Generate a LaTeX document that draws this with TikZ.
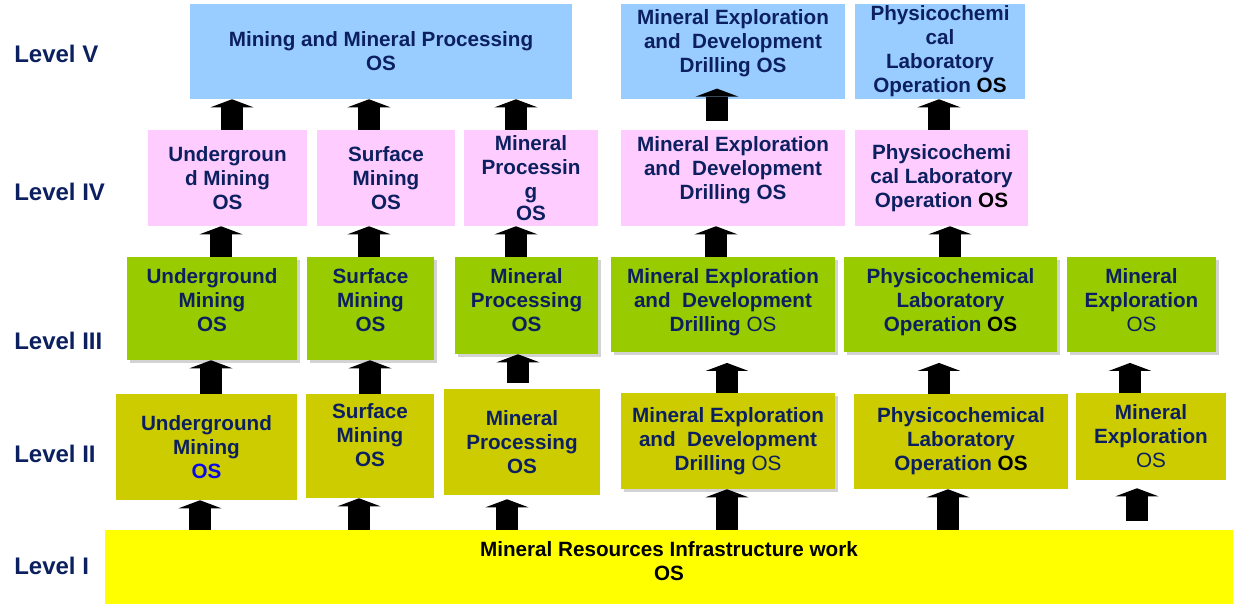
\documentclass[tikz,border=0pt]{standalone}
\usepackage{fontspec}
\setmainfont{Liberation Sans}
\usepackage{xcolor}
\usetikzlibrary{arrows.meta,shadows}
\definecolor{navy}{RGB}{12,32,96}
\definecolor{osblue}{RGB}{10,10,230}
\definecolor{skyblue}{RGB}{153,204,255}
\definecolor{pinkbox}{RGB}{255,204,255}
\definecolor{greenbox}{RGB}{153,204,0}
\definecolor{olivebox}{RGB}{204,204,0}
\definecolor{yellowbox}{RGB}{255,255,0}

\begin{document}
\begin{tikzpicture}[x=0.75pt, y=-0.75pt,
    box/.style={align=center, inner sep=0pt, text=navy,
      font=\fontsize{15.5}{18}\selectfont\bfseries},
    wh/.style 2 args={minimum width=#1*0.75pt, minimum height=#2*0.75pt},
    lift/.style={text depth=#1},
    shade/.style={drop shadow={shadow xshift=2pt, shadow yshift=-2.5pt, opacity=0.35}},
    lvl/.style={anchor=west, inner sep=0pt, text=navy,
      font=\fontsize{18}{20}\selectfont\bfseries},
    up/.style={line width=16.5pt, -{Triangle[width=32pt,length=6pt,line width=0pt]}}]
    \useasboundingbox (0,0) rectangle (1233,604);

    % levels
    \node[lvl] (l5) at (14,54) {Level V};
    \node[lvl] (l4) at (14,192) {Level IV};
    \node[lvl] (l3) at (14,341) {Level III};
    \node[lvl] (l2) at (14,454) {Level II};
    \node[lvl] (l1) at (14,566) {Level I};

    % level V
    \node[box, fill=skyblue, wh={382}{95}] (A) at (381,51.5) {Mining and Mineral Processing\\OS};
    \node[box, fill=skyblue, wh={224}{95}, lift=15pt] (B) at (733,51.5) {Mineral Exploration\\and\ \ Development\\Drilling OS};
    \node[box, fill=skyblue, wh={170}{95}] (C) at (940,51.5) {Physicochemi\\cal\\Laboratory\\Operation \textcolor{black}{OS}};

    % level IV
    \node[box, fill=pinkbox, wh={159}{96}] (D1) at (227.5,178) {Undergroun\\d Mining\\OS};
    \node[box, fill=pinkbox, wh={138}{96}] (D2) at (386,178) {Surface\\Mining\\OS};
    \node[box, fill=pinkbox, wh={134}{96}] (D3) at (531,178) {Mineral\\Processin\\g\\[-2pt]OS};
    \node[box, fill=pinkbox, wh={224}{96}, lift=15pt] (D4) at (733,178) {Mineral Exploration\\and\ \ Development\\Drilling OS};
    \node[box, fill=pinkbox, wh={173}{96}] (D5) at (941.5,178) {Physicochemi\\cal Laboratory\\Operation \textcolor{black}{OS}};

    % level III
    \node[box, shade, fill=greenbox, wh={170}{103}, lift=12pt] (E1) at (212,308.5) {Underground\\Mining\\OS};
    \node[box, shade, fill=greenbox, wh={127}{103}, lift=12pt] (E2) at (370.5,308.5) {Surface\\Mining\\OS};
    \node[box, shade, fill=greenbox, wh={143}{97}, lift=8pt] (E3) at (526.5,305.5) {Mineral\\Processing\\OS};
    \node[box, shade, fill=greenbox, wh={224}{95}, lift=7pt] (E4) at (723,304.5) {Mineral Exploration\\and\ \ Development\\Drilling \mdseries OS};
    \node[box, shade, fill=greenbox, wh={213}{95}, lift=7pt] (E5) at (950.5,304.5) {Physicochemical\\Laboratory\\Operation \textcolor{black}{OS}};
    \node[box, shade, fill=greenbox, wh={149}{95}, lift=7pt] (E6) at (1141.5,304.5) {Mineral\\Exploration\\\mdseries OS};

    % level II
    \node[box, fill=olivebox, wh={181}{106}] (F1) at (206.5,447) {Underground\\Mining\\\textcolor{osblue}{OS}};
    \node[box, fill=olivebox, wh={128}{104}, lift=17pt] (F2) at (370,446) {Surface\\Mining\\OS};
    \node[box, fill=olivebox, wh={156}{106}] (F3) at (522,442) {Mineral\\Processing\\OS};
    \node[box, shade, fill=olivebox, wh={214}{96}] (F4) at (728,441) {Mineral Exploration\\and\ \ Development\\Drilling \mdseries OS};
    \node[box, fill=olivebox, wh={214}{95}] (F5) at (961,441.5) {Physicochemical\\Laboratory\\Operation \textcolor{black}{OS}};
    \node[box, fill=olivebox, wh={150}{87}] (F6) at (1151,436.5) {Mineral\\Exploration\\\mdseries OS};

    % level I
    \node[box, fill=yellowbox, text=black, wh={1128}{74}, lift=9pt] (G) at (669,567) {Mineral Resources Infrastructure work\\OS};

    % arrows
    \foreach \x/\b in {200/F1, 359/F2, 727/F4, 948/F5}
      \draw[up] (G.north -| \x,0) -- (\b.south -| \x,0);
    \draw[up, shorten >=3pt] (G.north -| 507,0) -- (F3.south -| 507,0);
    \draw[up, shorten <=6.5pt, shorten >=6pt] (G.north -| 1137,0) -- (F6.south -| 1137,0);

    \foreach \x/\a/\b in {211/F1/E1, 370/F2/E2}
      \draw[up] (\a.north -| \x,0) -- (\b.south -| \x,0);
    \draw[up, shorten <=4.5pt] (F3.north -| 518,0) -- (E3.south -| 518,0);
    \foreach \x/\a/\b in {727/F4/E4, 939/F5/E5, 1130/F6/E6}
      \draw[up, shorten >=8pt] (\a.north -| \x,0) -- (\b.south -| \x,0);

    \foreach \x/\a/\b in {221/E1/D1, 369/E2/D2, 516/E3/D3, 716/E4/D4, 950/E5/D5}
      \draw[up] (\a.north -| \x,0) -- (\b.south -| \x,0);

    \foreach \x/\a/\b in {232/D1/A, 369/D2/A, 516/D3/A, 939/D5/C}
      \draw[up] (\a.north -| \x,0) -- (\b.south -| \x,0);
    \draw[up, shorten <=6.75pt, shorten >=-8pt] (D4.north -| 717,0) -- (B.south -| 717,0);
\end{tikzpicture}
\end{document}
